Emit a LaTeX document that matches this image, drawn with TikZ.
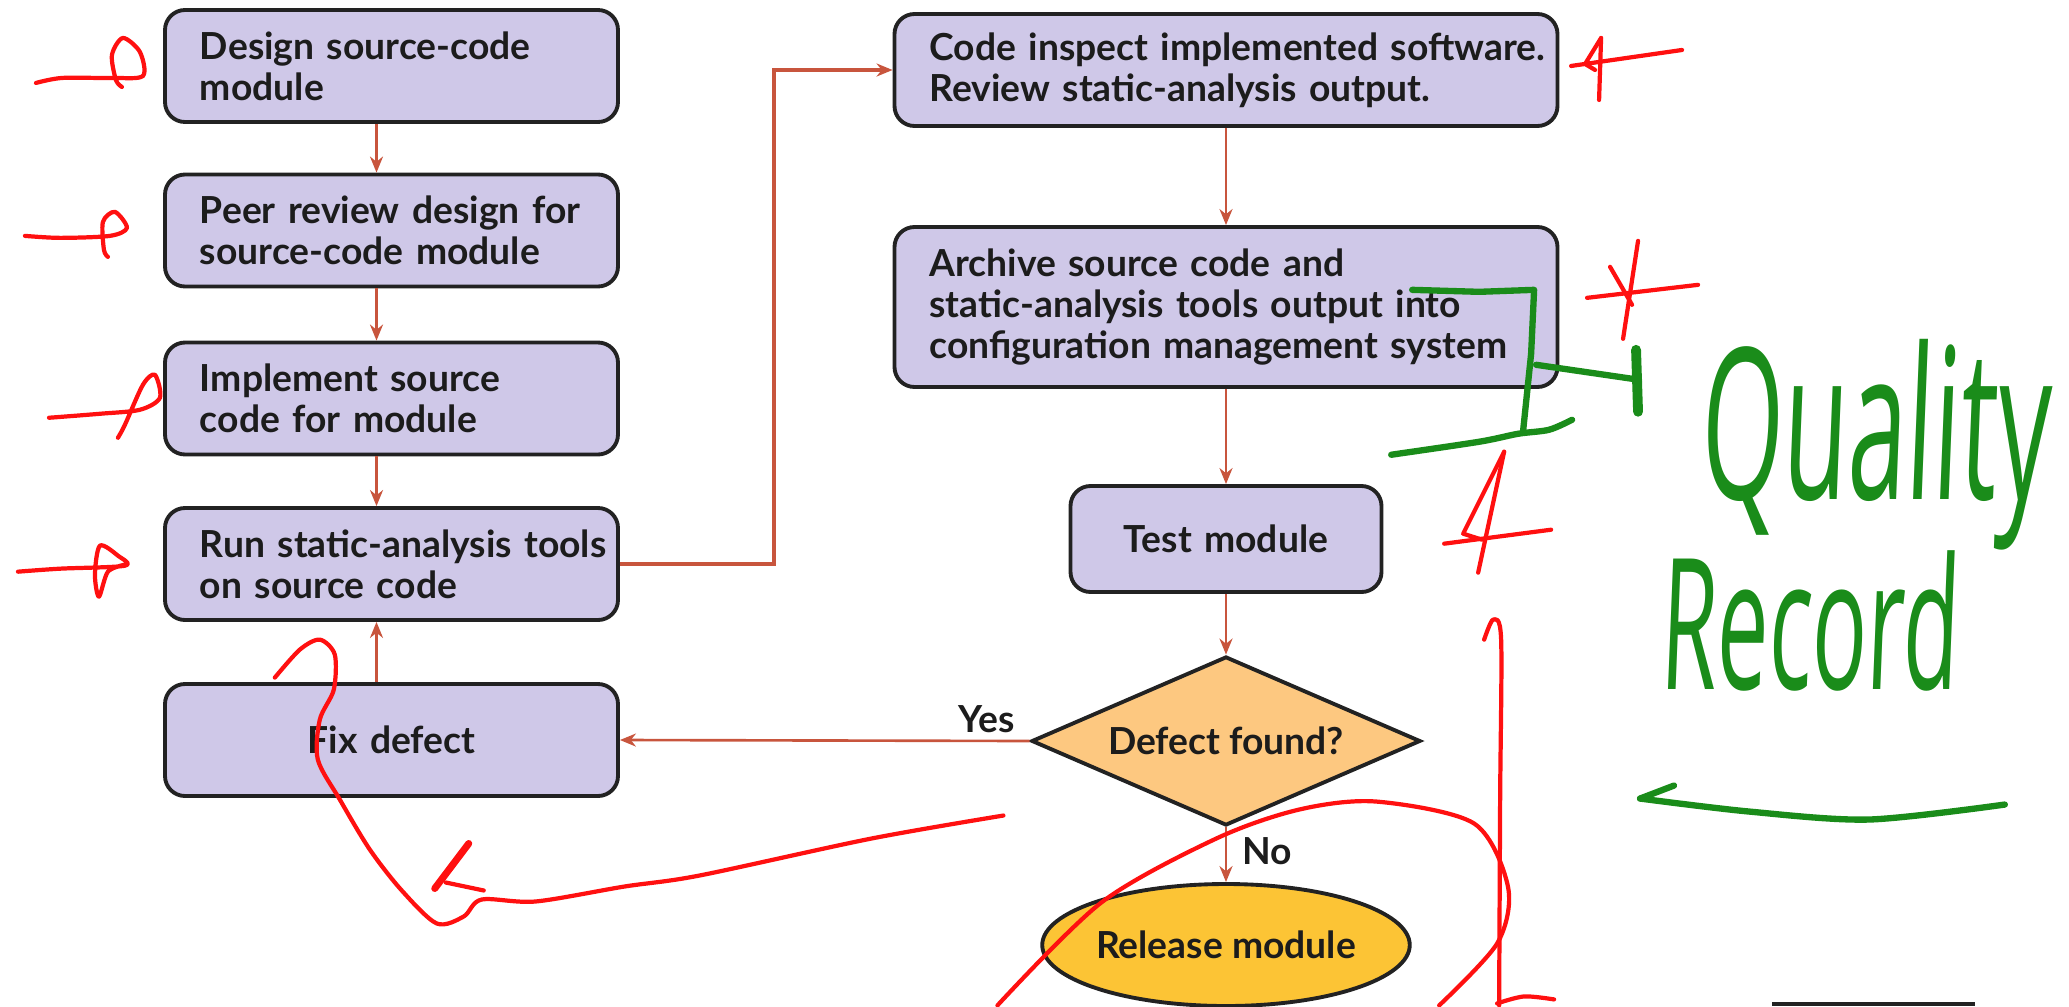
\documentclass[tikz,border=0pt]{standalone}
\usepackage{fontspec}
\setmainfont{Lato}
\newfontfamily\handfont{Open Sans}
\usetikzlibrary{arrows.meta,shapes.geometric}
\definecolor{lavender}{HTML}{CFC8E8}
\definecolor{edge}{HTML}{222222}
\definecolor{flow}{HTML}{C8553D}
\definecolor{peach}{HTML}{FDC880}
\definecolor{gold}{HTML}{FCC435}
\definecolor{ink}{HTML}{1C1C1C}
\definecolor{redink}{HTML}{FF1010}
\definecolor{greenink}{HTML}{1A8C1A}
\tikzset{
  stepbox/.style={rounded corners=0.2cm,draw=edge,fill=lavender,line width=1.1pt,minimum height=1.12cm,inner xsep=0.35cm,font=\bfseries\fontsize{10.6}{11.6}\selectfont,text=ink,align=left},
  decision/.style={diamond,aspect=2.3,draw=edge,fill=peach,line width=1.1pt,minimum width=3.89cm,minimum height=1.69cm,inner sep=0pt,font=\bfseries\fontsize{10.6}{11.6}\selectfont,text=ink},
  terminal/.style={ellipse,draw=edge,fill=gold,line width=1.1pt,minimum width=3.62cm,minimum height=1.22cm,inner sep=0pt,font=\bfseries\fontsize{10.6}{11.6}\selectfont,text=ink},
  lbl/.style={font=\bfseries\fontsize{10.6}{11.6}\selectfont,text=ink},
  arr/.style={-{Stealth[length=1.6mm,width=1.3mm]},draw=flow,line width=0.75pt},
  arrthick/.style={arr,line width=1.2pt},
  redpen/.style={draw=redink,line width=1.2pt,line cap=round,line join=round},
  greenpen/.style={draw=greenink,line width=1.8pt,line cap=round,line join=round},
  handtext/.style={text=greenink,xscale=0.5,xslant=0.08,inner sep=0pt,anchor=base west}
}
\begin{document}
\begin{tikzpicture}[x=1cm,y=1cm]
\path[use as bounding box] (0,0) rectangle (20.69,10.06);
% left column
\node[stepbox,text width=3.83cm] (design) at (3.915,9.40) {Design source-code\\module};
\node[stepbox,text width=3.83cm] (peer) at (3.915,7.755) {\mbox{Peer review design for}\\source-code module};
\node[stepbox,text width=3.83cm] (impl) at (3.915,6.075) {Implement source\\code for module};
\node[stepbox,text width=3.83cm] (analysis) at (3.915,4.42) {\mbox{Run static-analysis tools}\\on source code};
\node[stepbox,text width=3.83cm,align=center] (fix) at (3.915,2.66) {Fix defect};
% right column
\node[stepbox,text width=5.93cm] (inspect) at (12.26,9.36) {\mbox{Code inspect implemented software.}\\Review static-analysis output.};
\node[stepbox,text width=5.93cm,minimum height=1.6cm] (archive) at (12.26,6.99) {Archive source code and\\static-analysis tools output into\\\mbox{configuration management system}};
\node[stepbox,text width=2.41cm,align=center,minimum height=1.06cm] (test) at (12.26,4.67) {Test module};
\node[decision] (found) at (12.26,2.65) {Defect found?};
\node[terminal] (release) at (12.26,0.61) {Release module};
\node[lbl] (yes) at (9.87,2.87) {Yes};
\node[lbl] (no) at (12.67,1.55) {No};
% flow
\draw[arr] ([xshift=-1.5mm]design.south) -- ([xshift=-1.5mm]peer.north);
\draw[arr] ([xshift=-1.5mm]peer.south) -- ([xshift=-1.5mm]impl.north);
\draw[arr] ([xshift=-1.5mm]impl.south) -- ([xshift=-1.5mm]analysis.north);
\draw[arr] ([xshift=-1.5mm]fix.north) -- ([xshift=-1.5mm]analysis.south);
\draw[arrthick] (analysis.east) -- ++(1.54,0) |- (inspect.west);
\draw[arr] (inspect) -- (archive);
\draw[arr] (archive) -- (test);
\draw[arr] (test) -- (found);
\draw[arr] (found.west) -- (fix.east);
\draw[arr] (found) -- (release);
\fill[edge] (17.72,0) rectangle (19.75,0.04);
% hand-drawn marks, in pixels from the top left
\begin{scope}[x=0.01cm,y=-0.01cm,yshift=10.06cm]
\draw[redpen] plot[smooth] coordinates {(36,83) (62,78) (112,78) (143,76) (140,52) (123,38) (112,55) (116,80) (122,87)};
\draw[redpen] plot[smooth] coordinates {(25,236) (60,238) (110,236) (127,228) (115,212) (103,222) (104,250) (108,257)};
\draw[redpen] plot[smooth] coordinates {(49,418) (100,414) (140,410) (160,398) (155,375) (143,385) (125,425) (118,438)};
\draw[redpen] plot[smooth] coordinates {(18,572) (60,569) (125,566) (118,556) (100,546) (95,575) (99,597) (108,572) (125,565)};
\draw[redpen] (1602,38) -- (1600,100);
\draw[redpen] (1602,38) -- (1586,64) -- (1596,70);
\draw[redpen] (1572,66) -- (1683,50);
\draw[redpen] (1639,241) -- (1624,339);
\draw[redpen] (1611,267) -- (1633,305);
\draw[redpen] (1588,298) -- (1699,285);
\draw[redpen] (1505,452) -- (1479,573);
\draw[redpen] (1505,452) -- (1464,534) -- (1483,540);
\draw[redpen] (1445,544) -- (1552,530);
\draw[redpen] plot[smooth] coordinates {(1485,640) (1494,620) (1502,640) (1501,800) (1500,1006)};
\draw[redpen] plot[smooth] coordinates {(998,1006) (1102,903) (1217,839) (1300,810) (1377,802) (1475,824) (1509,888) (1498,944) (1440,1006)};
\draw[redpen] plot[smooth] coordinates {(1498,1004) (1525,997) (1555,1000)};
\draw[redpen] plot[smooth] coordinates {(1004,816) (872,839) (700,876) (625,887) (536,902) (482,900) (464,917) (437,924) (402,891) (370,850) (340,800) (318,760) (320,720) (334,690) (335,655) (320,640) (300,650) (275,678)};
\draw[redpen,line width=2pt] (469,844) -- (435,889);
\draw[redpen] (446,883) -- (484,891);
\draw[greenpen] (1413,290) -- (1480,292) -- (1535,290) -- (1532,354) -- (1524,431);
\draw[greenpen] plot[smooth] coordinates {(1392,455) (1480,442) (1519,434) (1550,430) (1573,420)};
\draw[greenpen] (1537,365) -- (1640,380);
\draw[greenpen,line width=2.8pt] (1637,350) -- (1639,412);
\draw[greenpen] plot[smooth] coordinates {(2006,805) (1870,820) (1750,812) (1641,799)};
\draw[greenpen] (1641,799) -- (1675,786);
\node[handtext,font=\handfont\fontsize{60}{62}\selectfont] (quality) at (1700,500) {Quality};
\node[handtext,font=\handfont\fontsize{52}{54}\selectfont] (record) at (1660,690) {Record};
\end{scope}
\end{tikzpicture}
\end{document}
